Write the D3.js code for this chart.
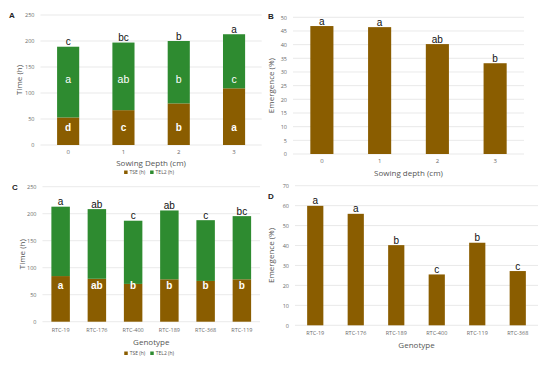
<!DOCTYPE html>
<html>
<head>
<meta charset="utf-8">
<script src="https://cdn.jsdelivr.net/npm/d3@7"></script>
<style>
  body { margin: 0; background: #fff; }
  svg { display: block; }
  text { font-family: "Open Sans", "Noto Sans", sans-serif; }
</style>
</head>
<body>
<svg></svg>
<script>
const depths = ["0", "1", "2", "3"];
const depthTSE = [53, 67, 80, 109];
const depthTotal = [189, 197, 200, 213];
const depthTSELetters = ["d", "c", "b", "a"];
const depthTEL2Letters = ["a", "ab", "b", "c"];
const depthTotalLetters = ["c", "bc", "b", "a"];

const depthEmergence = [46.8, 46.4, 40.2, 33.2];
const depthEmergenceLetters = ["a", "a", "ab", "b"];

const genotypesC = ["RTC-19", "RTC-176", "RTC-400", "RTC-189", "RTC-368", "RTC-119"];
const genoTSE = [84.5, 79.5, 70, 78.5, 75.5, 78.5];
const genoTotal = [213, 208.5, 187, 206, 188, 195.5];
const genoTSELetters = ["a", "ab", "b", "b", "b", "b"];
const genoTotalLetters = ["a", "ab", "c", "ab", "c", "bc"];

const genotypesD = ["RTC-19", "RTC-176", "RTC-189", "RTC-400", "RTC-119", "RTC-368"];
const genoEmergence = [59.9, 55.9, 40.2, 25.5, 41.4, 27.2];
const genoEmergenceLetters = ["a", "a", "b", "c", "b", "c"];

const brown = "#8a5d00";
const green = "#2e8b30";

const svg = d3.select("svg").attr("width", 550).attr("height", 365);

function panel(opt) {
  const g = svg.append("g");
  const x = d3.scaleBand()
    .domain(opt.cats)
    .range(opt.xr)
    .paddingInner(opt.pad)
    .paddingOuter(opt.pad / 2);
  const y = d3.scaleLinear().domain([0, opt.max]).range(opt.yr);

  // gridlines
  g.selectAll(".grid")
    .data(d3.range(0, opt.max + 1, opt.step))
    .enter()
    .append("line")
    .attr("x1", opt.xr[0]).attr("x2", opt.xr[1])
    .attr("y1", d => y(d)).attr("y2", d => y(d))
    .attr("stroke", "#e3e3e3").attr("stroke-width", 0.8);

  const yAxis = d3.axisLeft(y).tickValues(d3.range(0, opt.max + 1, opt.step)).tickSize(0).tickPadding(6);
  const ya = g.append("g").attr("transform", `translate(${opt.xr[0]},0)`).call(yAxis);
  ya.select(".domain").remove();
  ya.selectAll("text").attr("fill", "#6a6a6a").style("font-size", "5.5px");

  const xAxis = d3.axisBottom(x).tickSize(0).tickPadding(opt.tickPad);
  const xa = g.append("g").attr("transform", `translate(0,${opt.yr[0]})`).call(xAxis);
  xa.select(".domain").remove();
  xa.selectAll("text").attr("fill", "#6a6a6a").style("font-size", opt.xFont);

  const base = x.bandwidth();
  if (opt.tse) {
    g.selectAll(".tse").data(opt.cats).enter().append("rect")
      .attr("x", d => x(d)).attr("width", base)
      .attr("y", (d, i) => y(opt.tse[i]))
      .attr("height", (d, i) => y(0) - y(opt.tse[i]))
      .attr("fill", brown);
    g.selectAll(".tel").data(opt.cats).enter().append("rect")
      .attr("x", d => x(d)).attr("width", base)
      .attr("y", (d, i) => y(opt.total[i]))
      .attr("height", (d, i) => y(opt.tse[i]) - y(opt.total[i]))
      .attr("fill", green);
    g.selectAll(".tseL").data(opt.cats).enter().append("text")
      .attr("x", d => x(d) + base / 2)
      .attr("y", y(opt.tseLabelAt))
      .attr("text-anchor", "middle")
      .attr("fill", "#fff")
      .style("font-family", "'Liberation Sans', Arial, sans-serif")
      .style("font-weight", "bold")
      .style("font-size", "10px")
      .text((d, i) => opt.tseLetters[i]);
    if (opt.telLetters) {
      g.selectAll(".telL").data(opt.cats).enter().append("text")
        .attr("x", d => x(d) + base / 2)
        .attr("y", y(opt.telLabelAt))
        .attr("text-anchor", "middle")
        .attr("fill", "#fff")
        .style("font-family", "'Liberation Sans', Arial, sans-serif")
        .style("font-size", "10.5px")
        .text((d, i) => opt.telLetters[i]);
    }
  } else {
    g.selectAll(".bar").data(opt.cats).enter().append("rect")
      .attr("x", d => x(d)).attr("width", base)
      .attr("y", (d, i) => y(opt.total[i]))
      .attr("height", (d, i) => y(0) - y(opt.total[i]))
      .attr("fill", brown);
  }

  g.selectAll(".topL").data(opt.cats).enter().append("text")
    .attr("x", d => x(d) + base / 2)
    .attr("y", (d, i) => y(opt.total[i]) - 1.5)
    .attr("text-anchor", "middle")
    .attr("fill", "#111")
    .style("font-family", "'Liberation Sans', Arial, sans-serif")
    .style("font-size", "10px")
    .text((d, i) => opt.topLetters[i]);

  // axis titles
  g.append("text")
    .attr("x", (opt.xr[0] + opt.xr[1]) / 2)
    .attr("y", opt.xTitleY)
    .attr("text-anchor", "middle")
    .attr("fill", "#555")
    .style("font-size", "8px")
    .text(opt.xTitle);
  g.append("text")
    .attr("transform", `translate(${opt.yTitleX},${(opt.yr[0] + opt.yr[1]) / 2}) rotate(-90)`)
    .attr("text-anchor", "middle")
    .attr("fill", "#555")
    .style("font-size", "8px")
    .text(opt.yTitle);

  g.append("text")
    .attr("x", opt.letterPos[0]).attr("y", opt.letterPos[1])
    .attr("fill", "#222")
    .style("font-family", "'Liberation Sans', Arial, sans-serif")
    .style("font-weight", "bold")
    .style("font-size", "8px")
    .text(opt.letter);

  if (opt.legendY) {
    const cx = (opt.xr[0] + opt.xr[1]) / 2;
    const items = [["TSE (h)", brown], ["TEL2 (h)", green]];
    const lg = g.append("g").attr("transform", `translate(${cx - 27},${opt.legendY})`);
    items.forEach((it, i) => {
      const ox = i * 26;
      lg.append("rect").attr("x", ox).attr("y", -3.5).attr("width", 3.5).attr("height", 3.5).attr("fill", it[1]);
      lg.append("text").attr("x", ox + 5.5).attr("y", 0)
        .attr("fill", "#555").style("font-size", "5px").text(it[0]);
    });
  }
}

panel({
  cats: depths, xr: [40.5, 261.7], yr: [145, 15], max: 250, step: 50, pad: 0.6,
  tse: depthTSE, total: depthTotal, tseLetters: depthTSELetters, telLetters: depthTEL2Letters,
  topLetters: depthTotalLetters, tseLabelAt: 27, telLabelAt: 120, tickPad: 5, xFont: "6px",
  xTitle: "Sowing Depth (cm)", xTitleY: 166, yTitle: "Time (h)", yTitleX: 22,
  letter: "A", letterPos: [9, 18], legendY: 174
});

panel({
  cats: depths, xr: [293, 524], yr: [154, 17.3], max: 50, step: 5, pad: 0.6,
  tse: null, total: depthEmergence, topLetters: depthEmergenceLetters, tickPad: 5, xFont: "6px",
  xTitle: "Sowing depth (cm)", xTitleY: 175.5, yTitle: "Emergence (%)", yTitleX: 274,
  letter: "B", letterPos: [268, 19]
});

panel({
  cats: genotypesC, xr: [42.5, 260], yr: [321.7, 186.7], max: 250, step: 50, pad: 0.49,
  tse: genoTSE, total: genoTotal, tseLetters: genoTSELetters,
  topLetters: genoTotalLetters, tseLabelAt: 60, tickPad: 6, xFont: "5.5px",
  xTitle: "Genotype", xTitleY: 345, yTitle: "Time (h)", yTitleX: 25,
  letter: "C", letterPos: [12, 190], legendY: 355
});

panel({
  cats: genotypesD, xr: [295, 538], yr: [325.3, 185.7], max: 70, step: 10, pad: 0.6,
  tse: null, total: genoEmergence, topLetters: genoEmergenceLetters, tickPad: 6, xFont: "5.5px",
  xTitle: "Genotype", xTitleY: 348, yTitle: "Emergence (%)", yTitleX: 274,
  letter: "D", letterPos: [268, 199]
});
</script>
</body>
</html>
